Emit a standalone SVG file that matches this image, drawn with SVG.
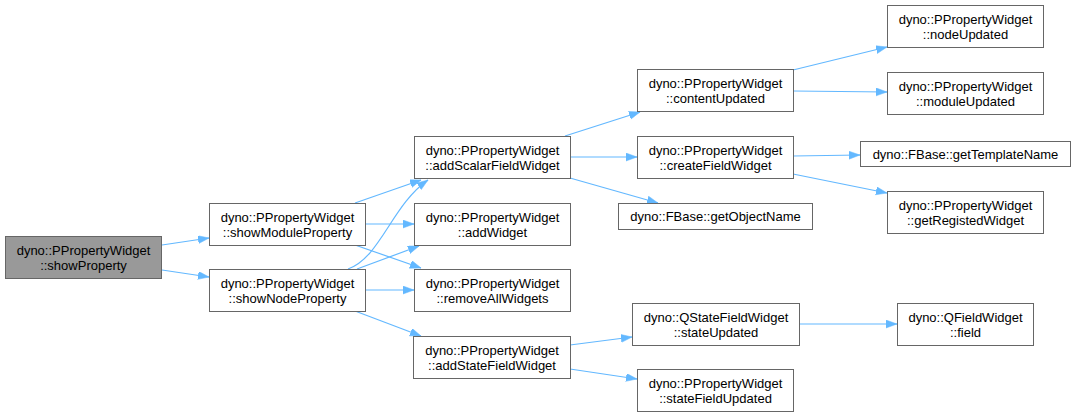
<svg xmlns="http://www.w3.org/2000/svg" width="1075" height="417" viewBox="0 0 1075 417">
<style>
.n rect{fill:#fff;stroke:#666;stroke-width:1}
.n.root rect{fill:#999}
.n text{font-family:"Liberation Sans",Arial,sans-serif;font-size:13px;fill:#000;text-anchor:middle}
.e path{fill:none;stroke:#63b8ff;stroke-width:1.2}
</style>
<defs>
<marker id="ah" markerUnits="userSpaceOnUse" markerWidth="12" markerHeight="9" refX="11" refY="4" orient="auto">
<path d="M0,0 L11,4 L0,8 z" fill="#63b8ff" stroke="#63b8ff" stroke-width="0.5"/>
</marker>
</defs>
<rect width="1075" height="417" fill="#fff"/>
<g id="connectors" class="e">
<path d="M162,245 L209,238" marker-end="url(#ah)"/>
<path d="M162,270 L209,277" marker-end="url(#ah)"/>
<path d="M355,203 L421,180" marker-end="url(#ah)"/>
<path d="M348,269 C380,258 392,205 428,180" marker-end="url(#ah)"/>
<path d="M366,224 L414,224" marker-end="url(#ah)"/>
<path d="M355,245 L421,268" marker-end="url(#ah)"/>
<path d="M357,269 L419,246" marker-end="url(#ah)"/>
<path d="M366,290 L414,290" marker-end="url(#ah)"/>
<path d="M355,311 L421,336" marker-end="url(#ah)"/>
<path d="M565,136 L640,112" marker-end="url(#ah)"/>
<path d="M570,157 L637,157" marker-end="url(#ah)"/>
<path d="M570,178 L658,203" marker-end="url(#ah)"/>
<path d="M793,70 L887,47" marker-end="url(#ah)"/>
<path d="M793,91 L887,92" marker-end="url(#ah)"/>
<path d="M793,156 L860,155" marker-end="url(#ah)"/>
<path d="M793,174 L887,193" marker-end="url(#ah)"/>
<path d="M570,345 L632,337" marker-end="url(#ah)"/>
<path d="M570,369 L637,379" marker-end="url(#ah)"/>
<path d="M799,324 L897,324" marker-end="url(#ah)"/>
</g>
<g id="showProperty" class="n root"><rect x="5.5" y="236.5" width="156" height="42"/><text x="83.5" y="254.5">dyno::PPropertyWidget</text><text x="83.5" y="269.5">::showProperty</text></g>
<g id="showModuleProperty" class="n"><rect x="209.5" y="203.5" width="156" height="42"/><text x="287.5" y="221.5">dyno::PPropertyWidget</text><text x="287.5" y="236.5">::showModuleProperty</text></g>
<g id="showNodeProperty" class="n"><rect x="209.5" y="269.5" width="156" height="42"/><text x="287.5" y="287.5">dyno::PPropertyWidget</text><text x="287.5" y="302.5">::showNodeProperty</text></g>
<g id="addScalarFieldWidget" class="n"><rect x="414.5" y="136.5" width="156" height="42"/><text x="492.5" y="154.5">dyno::PPropertyWidget</text><text x="492.5" y="169.5">::addScalarFieldWidget</text></g>
<g id="addWidget" class="n"><rect x="414.5" y="203.5" width="156" height="42"/><text x="492.5" y="221.5">dyno::PPropertyWidget</text><text x="492.5" y="236.5">::addWidget</text></g>
<g id="removeAllWidgets" class="n"><rect x="414.5" y="269.5" width="156" height="42"/><text x="492.5" y="287.5">dyno::PPropertyWidget</text><text x="492.5" y="302.5">::removeAllWidgets</text></g>
<g id="addStateFieldWidget" class="n"><rect x="413.5" y="336.5" width="157" height="42"/><text x="492" y="354.5">dyno::PPropertyWidget</text><text x="492" y="369.5">::addStateFieldWidget</text></g>
<g id="contentUpdated" class="n"><rect x="637.5" y="69.5" width="156" height="42"/><text x="715.5" y="87.5">dyno::PPropertyWidget</text><text x="715.5" y="102.5">::contentUpdated</text></g>
<g id="createFieldWidget" class="n"><rect x="637.5" y="136.5" width="156" height="42"/><text x="715.5" y="154.5">dyno::PPropertyWidget</text><text x="715.5" y="169.5">::createFieldWidget</text></g>
<g id="getObjectName" class="n"><rect x="618.5" y="203.5" width="194" height="26"/><text x="715.5" y="221">dyno::FBase::getObjectName</text></g>
<g id="stateUpdated" class="n"><rect x="632.5" y="303.5" width="167" height="42"/><text x="716" y="321.5">dyno::QStateFieldWidget</text><text x="716" y="336.5">::stateUpdated</text></g>
<g id="stateFieldUpdated" class="n"><rect x="637.5" y="369.5" width="156" height="42"/><text x="715.5" y="387.5">dyno::PPropertyWidget</text><text x="715.5" y="402.5">::stateFieldUpdated</text></g>
<g id="nodeUpdated" class="n"><rect x="887.5" y="5.5" width="156" height="42"/><text x="965.5" y="23.5">dyno::PPropertyWidget</text><text x="965.5" y="38.5">::nodeUpdated</text></g>
<g id="moduleUpdated" class="n"><rect x="887.5" y="72.5" width="156" height="42"/><text x="965.5" y="90.5">dyno::PPropertyWidget</text><text x="965.5" y="105.5">::moduleUpdated</text></g>
<g id="getTemplateName" class="n"><rect x="860.5" y="141.5" width="210" height="25"/><text x="965.5" y="158.5">dyno::FBase::getTemplateName</text></g>
<g id="getRegistedWidget" class="n"><rect x="887.5" y="191.5" width="156" height="42"/><text x="965.5" y="209.5">dyno::PPropertyWidget</text><text x="965.5" y="224.5">::getRegistedWidget</text></g>
<g id="field" class="n"><rect x="897.5" y="303.5" width="136" height="42"/><text x="965.5" y="321.5">dyno::QFieldWidget</text><text x="965.5" y="336.5">::field</text></g>
</svg>
